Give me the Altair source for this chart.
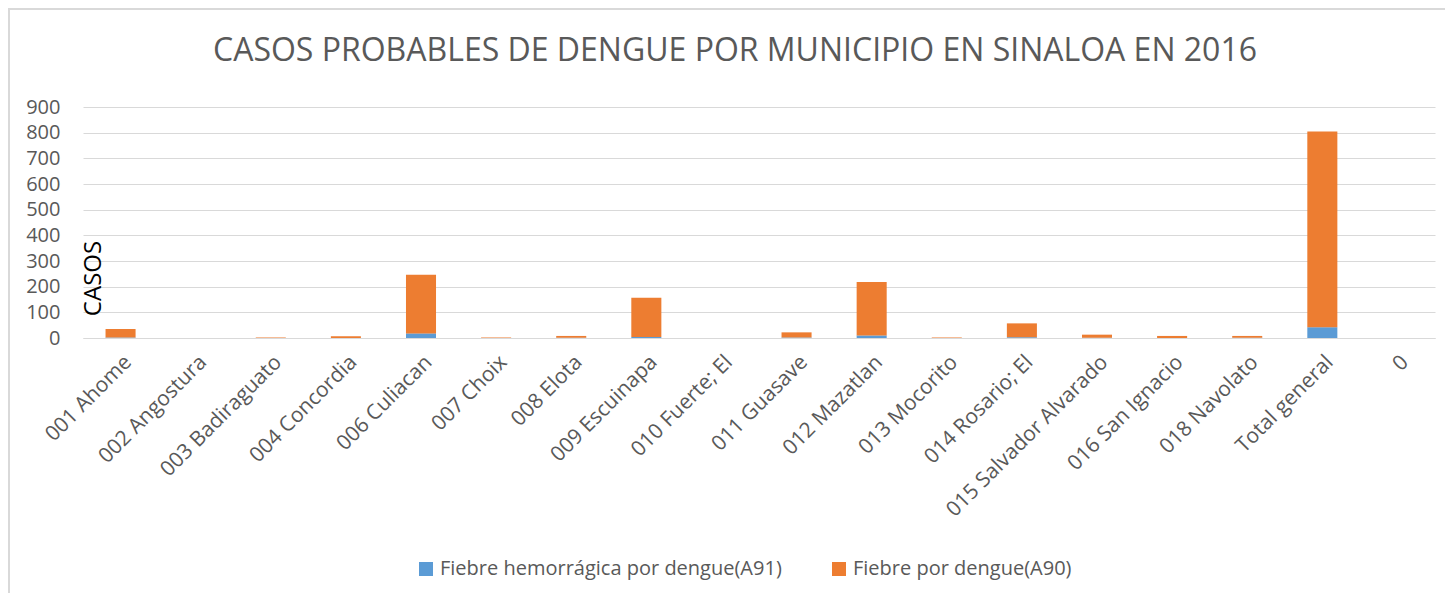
import altair as alt
import pandas as pd

categories = ["001 Ahome", "002 Angostura", "003 Badiraguato", "004 Concordia",
              "006 Culiacan", "007 Choix", "008 Elota", "009 Escuinapa",
              "010 Fuerte; El", "011 Guasave", "012 Mazatlan", "013 Mocorito",
              "014 Rosario; El", "015 Salvador Alvarado", "016 San Ignacio",
              "018 Navolato", "Total general", "0"]
hemorragica = [2, 0, 0, 0, 18, 0, 1, 4, 0, 2, 10, 0, 3, 1, 0, 1, 42, 0]
dengue = [33, 0, 2, 7, 228, 2, 7, 153, 0, 20, 208, 2, 54, 12, 8, 7, 763, 0]
series = ["Fiebre hemorrágica por dengue(A91)", "Fiebre por dengue(A90)"]
colors = ["#5B9BD5", "#ED7D31"]
y_ticks = [0, 100, 200, 300, 400, 500, 600, 700, 800, 900]

rows = []
for i, c in enumerate(categories):
    rows.append({"cat": c, "serie": series[0], "value": hemorragica[i], "ord": 0})
    rows.append({"cat": c, "serie": series[1], "value": dengue[i], "ord": 1})
df = pd.DataFrame(rows)

FONT = "Open Sans"
GRAY = "#595959"
W, H = 1352, 231

bars = alt.Chart(df).mark_bar().encode(
    x=alt.X("cat:N", sort=categories,
            scale=alt.Scale(paddingInner=0.6, paddingOuter=0.3),
            axis=alt.Axis(title=None, labelAngle=-45, labelAlign="right",
                          labelBaseline="top", labelFontSize=21,
                          labelColor=GRAY, labelFont=FONT, ticks=False,
                          domain=True, domainColor="#D9D9D9", labelPadding=13,
                          labelOverlap=False, labelLimit=600)),
    y=alt.Y("value:Q", stack="zero", scale=alt.Scale(domain=[0, 900]),
            axis=alt.Axis(values=y_ticks, title="CASOS", titleAngle=270,
                          titleX=10, titleY=171, titleAlign="center",
                          titleBaseline="middle", titleColor="black",
                          titleFontSize=24, titleFontWeight="normal",
                          titleFont=FONT, labelFontSize=20, labelColor=GRAY,
                          labelFont=FONT, labelPadding=23, ticks=False,
                          domain=False, gridColor="#D9D9D9")),
    color=alt.Color("serie:N", scale=alt.Scale(domain=series, range=colors),
                    legend=alt.Legend(title=None, orient="none",
                                      direction="horizontal", legendX=333,
                                      legendY=452, symbolType="square",
                                      symbolSize=196, symbolStrokeWidth=0,
                                      labelFontSize=20, labelFont=FONT,
                                      labelColor=GRAY, columnPadding=47,
                                      labelLimit=500)),
    order=alt.Order("ord:Q"),
)

border = alt.Chart(pd.DataFrame({"a": [0]})).mark_rect(
    fill=None, stroke="#D9D9D9", strokeWidth=2
).encode(x=alt.value(-74), x2=alt.value(1420), y=alt.value(-98), y2=alt.value(560))

chart = alt.layer(border, bars).properties(
    width=W, height=H,
    title=alt.TitleParams(
        "CASOS PROBABLES DE DENGUE POR MUNICIPIO EN SINALOA EN 2016",
        fontSize=32, font=FONT, color=GRAY, fontWeight="normal",
        anchor="middle", dx=-24, baseline="alphabetic", offset=-85),
    autosize=alt.AutoSizeParams(type="none"),
    padding={"left": 75, "top": 99, "right": 10, "bottom": 255},
).configure_view(stroke=None)

chart.save("out.html", embed_options={"renderer": "svg", "actions": False})
